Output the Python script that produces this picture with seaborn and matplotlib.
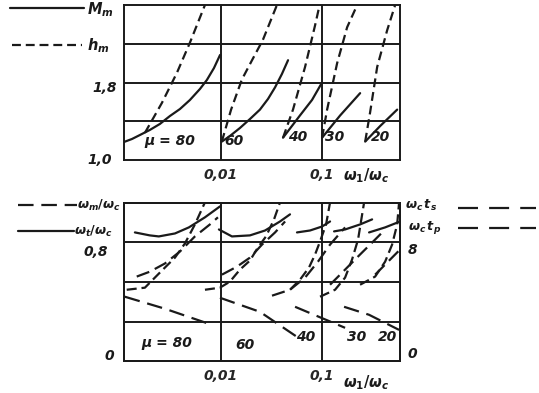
import matplotlib
matplotlib.use("Agg")
import matplotlib.pyplot as plt
import matplotlib.transforms as mtransforms
from matplotlib.lines import Line2D
import pandas as pd
import seaborn as sns

# ---------------- data (top panel: M_m solid, h_m dashed) ----------------
mu_values = [80, 60, 40, 30, 20]
mu_texts = ["\u03bc = 80", "60", "40", "30", "20"]

Mm_x = {80: [0.0011, 0.00132, 0.00158, 0.00198, 0.00249, 0.00313, 0.00393, 0.00493,
             0.0062, 0.00726, 0.00853, 0.0098],
        60: [0.0102, 0.01228, 0.0154, 0.01937, 0.0243, 0.0292, 0.0343, 0.0401, 0.0461],
        40: [0.0411, 0.0605, 0.0796, 0.100],
        30: [0.100, 0.151, 0.238],
        20: [0.267, 0.375, 0.553]}
Mm_y = {80: [1.186, 1.217, 1.258, 1.310, 1.372, 1.454, 1.526, 1.619, 1.733, 1.826, 1.949, 2.084],
        60: [1.19, 1.248, 1.33, 1.423, 1.52, 1.63, 1.75, 1.888, 2.03],
        40: [1.23, 1.46, 1.62, 1.80],
        30: [1.23, 1.46, 1.69],
        20: [1.19, 1.35, 1.52]}
hm_x = {80: [0.00177, 0.00261, 0.00367, 0.00493, 0.00695],
        60: [0.0102, 0.0126, 0.0161, 0.0203, 0.0260, 0.0358],
        40: [0.0411, 0.0516, 0.0679, 0.0853, 0.0955],
        30: [0.100, 0.1122, 0.141, 0.177, 0.227],
        20: [0.267, 0.2985, 0.3508, 0.4406, 0.5284]}
hm_y = {80: [1.28, 1.59, 1.90, 2.21, 2.60],
        60: [1.19, 1.52, 1.83, 2.03, 2.24, 2.60],
        40: [1.23, 1.52, 1.96, 2.39, 2.62],
        30: [1.23, 1.52, 2.00, 2.37, 2.62],
        20: [1.19, 1.49, 1.96, 2.34, 2.60]}
top_label_x = [0.0031, 0.0135, 0.058, 0.134, 0.38]
top_label_y = [1.20, 1.20, 1.24, 1.24, 1.24]

# ---------------- data (bottom panel) ----------------
# left axis: omega_t/omega_c (solid), omega_m/omega_c (dashed)
wt_x = {80: [0.00141, 0.00198, 0.00243, 0.00351, 0.00482, 0.00695, 0.0098],
        60: [0.00955, 0.01285, 0.01937, 0.0273, 0.0384, 0.0482],
        40: [0.0565, 0.076, 0.100, 0.120],
        30: [0.1315, 0.169, 0.2377, 0.3126],
        20: [0.2917, 0.4207, 0.5916]}
wt_y = {80: [0.868, 0.848, 0.841, 0.861, 0.902, 0.970, 1.044],
        60: [0.888, 0.841, 0.848, 0.881, 0.942, 0.990],
        40: [0.868, 0.881, 0.908, 0.942],
        30: [0.875, 0.888, 0.922, 0.956],
        20: [0.868, 0.902, 0.942]}
wm_x = {80: [0.00112, 0.00279, 0.00815],
        60: [0.00978, 0.0243, 0.0565],
        40: [0.0541, 0.0933, 0.169],
        30: [0.1651, 0.2917, 0.5781]}
wm_y = {80: [0.434, 0.353, 0.244],
        60: [0.427, 0.332, 0.163],
        40: [0.366, 0.298, 0.224],
        30: [0.366, 0.312, 0.210]}
# right axis: omega_c t_s and omega_c t_p
ts_x = {80: [0.00117, 0.00177, 0.00249, 0.00351, 0.0044, 0.00553, 0.00695],
        60: [0.00695, 0.00978, 0.01228, 0.01542, 0.01937, 0.0232, 0.0279, 0.0335, 0.0384],
        40: [0.0482, 0.0605, 0.0743, 0.0853, 0.0955, 0.1096, 0.120],
        30: [0.0955, 0.1345, 0.169, 0.198, 0.227, 0.2606],
        20: [0.2377, 0.335, 0.4207, 0.493, 0.5531, 0.5781]}
ts_y = {80: [4.81, 4.95, 5.97, 6.98, 7.93, 9.22, 10.71],
        60: [4.81, 4.95, 5.36, 6.17, 6.78, 7.66, 8.41, 9.56, 10.71],
        40: [4.81, 5.49, 6.31, 7.19, 8.07, 9.22, 10.71],
        30: [4.34, 4.81, 5.63, 6.85, 8.20, 10.71],
        20: [5.15, 5.70, 6.71, 7.86, 9.22, 10.71]}
tp_x = {80: [0.00147, 0.00198, 0.00279, 0.00393, 0.00553, 0.00778, 0.00934],
        60: [0.01023, 0.0144, 0.01937, 0.0255, 0.0343, 0.0431],
        40: [0.032, 0.0482, 0.0679, 0.0912, 0.120, 0.169],
        30: [0.120, 0.169, 0.2377, 0.335, 0.4207],
        20: [0.335, 0.4714, 0.5916]}
tp_y = {80: [5.70, 6.03, 6.58, 7.39, 8.41, 9.22, 9.70],
        60: [5.83, 6.37, 6.98, 7.86, 8.68, 9.42],
        40: [4.41, 4.81, 5.63, 6.71, 7.86, 9.02],
        30: [5.15, 6.17, 7.19, 8.20, 8.88],
        20: [5.83, 6.85, 7.53]}
bot_label_x = [0.0029, 0.0173, 0.0695, 0.22, 0.44]
bot_label_y = [0.12, 0.108, 0.163, 0.163, 0.163]

# ---------------- styling ----------------
sns.set_theme(style="white")
plt.rcParams["font.family"] = ["DejaVu Sans"]
plt.rcParams["mathtext.fontset"] = "custom"
plt.rcParams["mathtext.it"] = "DejaVu Sans:italic:bold"
plt.rcParams["mathtext.rm"] = "DejaVu Sans:bold"
plt.rcParams["mathtext.default"] = "it"

W, H = 539, 393
fig = plt.figure(figsize=(W / 100, H / 100), dpi=100)
fig.patch.set_facecolor("white")


def fx(px):
    return px / W


def fy(py):
    return 1 - py / H


LW = 1.6
GRID_LW = 1.4
TXT = dict(color="k", fontstyle="italic", fontweight="bold", fontsize=10)
MTXT = dict(color="k", fontsize=10.5)
LTXT = dict(color="k", fontsize=9.2)

ax1 = fig.add_axes([fx(124), fy(160), fx(400) - fx(124), fy(5) - fy(160)])
ax2 = fig.add_axes([fx(124), fy(361), fx(400) - fx(124), fy(203) - fy(361)])

DASH_H = (0, (4, 2.2))
DASH_M = (0, (7, 3.5))
DASH_S = (0, (4.5, 2.2))
DASH_P = (0, (6, 2.8))
DASH_KEY = (0, (9, 5))


def line(ax, xs, ys, ls):
    df = pd.DataFrame({"x": xs, "y": ys})
    sns.lineplot(data=df, x="x", y="y", ax=ax, color="k", lw=LW, sort=False,
                 estimator=None, linestyle=ls, legend=False)


def style_axis(ax):
    ax.set_xscale("log")
    ax.set_xlim(0.0011, 0.59)
    ax.set_xticks([0.01, 0.1])
    ax.set_xticklabels(["0,01", "0,1"])
    ax.xaxis.set_minor_locator(matplotlib.ticker.NullLocator())
    ax.tick_params(length=0, labelsize=10, pad=6)
    for lab in ax.get_xticklabels():
        lab.set_fontstyle("italic")
        lab.set_fontweight("bold")
    for s in ax.spines.values():
        s.set_color("k")
        s.set_linewidth(GRID_LW)
        s.set_visible(True)
    ax.set_xlabel("")
    ax.set_ylabel("")
    ax.set_facecolor("white")


# ---- top panel ----
for mu in mu_values:
    line(ax1, Mm_x[mu], Mm_y[mu], "-")
    line(ax1, hm_x[mu], hm_y[mu], DASH_H)
style_axis(ax1)
ax1.set_ylim(1.0, 2.6)
ax1.set_yticks([1.0, 1.4, 1.8, 2.2])
ax1.set_yticklabels([])
for gx in [0.01, 0.1]:
    ax1.axvline(gx, color="k", lw=GRID_LW, zorder=1)
for gy in [1.4, 1.8, 2.2]:
    ax1.axhline(gy, color="k", lw=GRID_LW, zorder=1)
for t, x, y in zip(mu_texts, top_label_x, top_label_y):
    ax1.text(x, y, t, ha="center", va="center", **TXT)
tr1 = mtransforms.blended_transform_factory(ax1.transData, ax1.transAxes)
ax1.text(0.27, -0.1, r"$\omega_1/\omega_c$", transform=tr1, ha="center", va="center", **MTXT)
fig.text(fx(117), fy(88), "1,8", ha="right", va="center", **TXT)
fig.text(fx(112), fy(160), "1,0", ha="right", va="center", **TXT)

# ---- bottom panel ----
ax2r = ax2.twinx()
for mu in wt_x:
    line(ax2, wt_x[mu], wt_y[mu], "-")
for mu in wm_x:
    line(ax2, wm_x[mu], wm_y[mu], DASH_M)
for mu in ts_x:
    line(ax2r, ts_x[mu], ts_y[mu], DASH_S)
for mu in tp_x:
    line(ax2r, tp_x[mu], tp_y[mu], DASH_P)
style_axis(ax2)
ax2.set_ylim(0, 0.8 * 4 / 3)
ax2.set_yticks([])
ax2r.set_ylim(0, 8 * 4 / 3)
ax2r.set_yticks([])
ax2r.set_ylabel("")
for s in ax2r.spines.values():
    s.set_color("k")
    s.set_linewidth(GRID_LW)
for gx in [0.01, 0.1]:
    ax2.axvline(gx, color="k", lw=GRID_LW, zorder=1)
for gy in [0.8 / 3, 1.6 / 3, 0.8]:
    ax2.axhline(gy, color="k", lw=GRID_LW, zorder=1)
for t, x, y in zip(mu_texts, bot_label_x, bot_label_y):
    ax2.text(x, y, t, ha="center", va="center", **TXT)
tr2 = mtransforms.blended_transform_factory(ax2.transData, ax2.transAxes)
ax2.text(0.27, -0.14, r"$\omega_1/\omega_c$", transform=tr2, ha="center", va="center", **MTXT)
fig.text(fx(84), fy(252), "0,8", ha="left", va="center", **TXT)
fig.text(fx(114), fy(356), "0", ha="right", va="center", **TXT)
fig.text(fx(408), fy(250), "8", ha="left", va="center", **TXT)
fig.text(fx(407), fy(354), "0", ha="left", va="center", **TXT)


# ---- legend keys ----
def key(x0, x1, y, ls):
    fig.add_artist(Line2D([fx(x0), fx(x1)], [fy(y), fy(y)], color="k", lw=LW,
                          linestyle=ls, transform=fig.transFigure))


key(10, 84, 8, "-")
fig.text(fx(87), fy(10), r"$M_m$", ha="left", va="center", **MTXT)
key(12, 82, 45, DASH_H)
fig.text(fx(87), fy(46), r"$h_m$", ha="left", va="center", **MTXT)
key(18, 77, 205, DASH_M)
fig.text(fx(77), fy(205), r"$\omega_m/\omega_c$", ha="left", va="center", **LTXT)
key(18, 74, 231, "-")
fig.text(fx(74), fy(231), r"$\omega_t/\omega_c$", ha="left", va="center", **LTXT)
fig.text(fx(405), fy(205), r"$\omega_c\,t_s$", ha="left", va="center", **LTXT)
key(458, 536, 208, DASH_KEY)
fig.text(fx(408), fy(227), r"$\omega_c\,t_p$", ha="left", va="center", **LTXT)
key(458, 536, 228, DASH_KEY)

fig.savefig("out.png", dpi=100, facecolor="white")
